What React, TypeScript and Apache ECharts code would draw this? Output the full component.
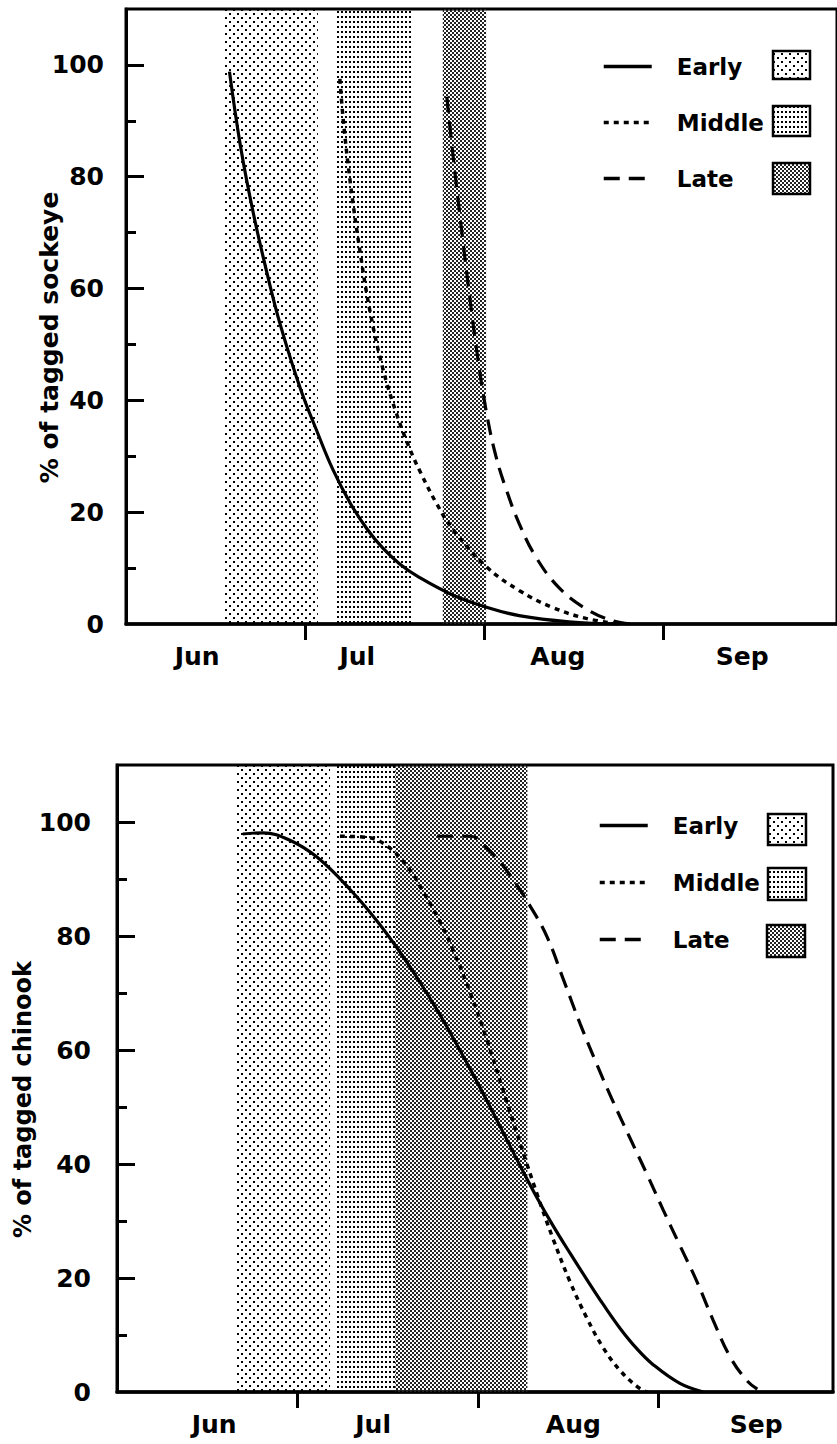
import React, { useEffect, useRef } from "react";
import * as echarts from "echarts";

// ---------- data ----------
// x values are days counted from May 31 (Jun 1 = 1, Jul 1 = 31, Aug 1 = 62, Sep 1 = 93)
const monthNames = ["Jun", "Jul", "Aug", "Sep"];
const monthStartDays = [31, 62, 93];
const sockeyeMonthLabelDays = [12.3, 40, 74.7, 106.6];
const chinookMonthLabelDays = [16.7, 44, 78.4, 109.8];
const yLabelValues = [0, 20, 40, 60, 80, 100];
const yMajorTicks = [20, 40, 60, 80, 100];
const yMinorTicks = [10, 30, 50, 70, 90];
const runNames = ["Early", "Middle", "Late"];

// shaded periods (start day, end day) for Early / Middle / Late runs
const sockeyeBands = [
  [17.1, 33.2],
  [36.5, 49.6],
  [54.8, 62.3],
];
const chinookBands = [
  [20.6, 36.6],
  [37.8, 47.8],
  [47.8, 70.5],
];

// % of tagged sockeye remaining
const sockeyeEarly = [
  [17.9, 98.8], [19.8, 85.5], [22.0, 73.6], [24.5, 62.3], [26.7, 53.5],
  [30.1, 42.3], [33.1, 34.3], [35.8, 27.6], [38.8, 21.6], [41.7, 17.0],
  [44.4, 13.6], [47.4, 10.7], [50.8, 8.3], [56.5, 5.2], [62.4, 3.0],
  [68.0, 1.5], [76.6, 0.4], [85.3, 0],
];
const sockeyeMiddle = [
  [37.0, 97.5], [37.6, 90.0], [38.8, 79.0], [40.5, 66.5], [42.2, 56.0],
  [44.4, 45.8], [46.8, 37.6], [49.1, 31.3], [51.0, 27.0], [53.7, 21.6],
  [56.5, 17.0], [62.4, 10.2], [68.0, 6.0], [73.7, 3.0], [79.6, 1.0],
  [85.3, 0],
];
const sockeyeLate = [
  [55.5, 94.3], [56.5, 84.5], [58.0, 71.0], [59.4, 59.0], [60.8, 48.0],
  [62.4, 37.6], [64.0, 30.0], [65.8, 24.0], [68.0, 18.0], [70.9, 12.0],
  [74.9, 6.5], [79.6, 2.7], [84.1, 0.6], [87.5, 0],
];

// % of tagged chinook remaining
const chinookEarly = [
  [21.6, 97.9], [25.1, 98.1], [29.7, 96.8], [34.4, 93.8], [40.0, 88.2],
  [44.7, 82.6], [48.6, 77.2], [52.1, 71.8], [55.0, 67.0], [57.7, 62.2],
  [60.7, 56.6], [63.6, 51.0], [66.3, 45.6], [69.2, 39.8], [72.2, 34.0],
  [74.9, 29.2], [77.8, 24.4], [80.8, 19.6], [83.5, 15.4], [86.4, 11.2],
  [89.3, 7.6], [92.1, 4.8], [96.7, 1.5], [100.7, 0],
];
const chinookMiddle = [
  [38.3, 97.5], [43.0, 97.3], [46.9, 95.4], [50.3, 91.6], [52.1, 88.6],
  [55.0, 83.5], [57.7, 77.6], [60.7, 70.0], [63.6, 61.6], [66.3, 53.0],
  [69.2, 43.8], [72.2, 34.6], [74.9, 26.9], [77.8, 19.4], [80.8, 12.8],
  [83.5, 7.8], [86.4, 3.8], [89.3, 1.0], [91.0, 0],
];
const chinookLate = [
  [55.0, 97.5], [60.7, 97.5], [63.6, 95.4], [67.0, 91.4], [71.0, 85.2],
  [73.9, 79.8], [76.6, 72.6], [79.6, 64.5], [82.5, 57.3], [85.2, 51.0],
  [88.1, 44.6], [91.0, 38.3], [93.8, 32.0], [96.7, 25.7], [99.7, 19.2],
  [102.4, 12.6], [105.3, 6.2], [108.2, 2.0], [110.0, 0.5],
];

// ---------- styling helpers ----------
const FONT = "DejaVu Sans";
const lineStyles = [
  { color: "#000", width: 3.2, type: "solid" },
  { color: "#000", width: 3.5, type: [5, 5] },
  { color: "#000", width: 3.2, type: [16, 9] },
];

function dotPattern(w: number, h: number, dots: number[][], size: number, color: string) {
  const c = document.createElement("canvas");
  c.width = w;
  c.height = h;
  const ctx = c.getContext("2d")!;
  ctx.fillStyle = color;
  dots.forEach(([x, y]) => ctx.fillRect(x, y, size, size));
  return { image: c, repeat: "repeat", imageWidth: w, imageHeight: h };
}

function nearestLabel(days: number[], v: number) {
  let best = 0;
  days.forEach((d, i) => {
    if (Math.abs(d - v) < Math.abs(days[best] - v)) best = i;
  });
  return monthNames[best];
}

export default function App() {
  const ref = useRef<HTMLDivElement>(null);

  useEffect(() => {
    if (!ref.current) return;
    const chart = echarts.init(ref.current, null, { renderer: "svg" });

    const patterns = [
      dotPattern(8, 8, [[1, 1], [5, 5]], 2, "#000"),
      dotPattern(4, 5, [[1, 1]], 2, "#000"),
      dotPattern(4, 4, [[0, 0], [2, 2]], 2, "#222"),
    ];

    const textBase = { fontFamily: FONT, fontWeight: "bold" as const, color: "#000" };

    const makeX = (gridIndex: number, labelDays: number[]) => ({
      type: "value",
      gridIndex,
      min: 0,
      max: 123,
      axisLine: { show: true, onZero: false, lineStyle: { color: "#000", width: 3.5 } },
      axisTick: {
        show: true,
        inside: false,
        customValues: monthStartDays,
        length: 16,
        lineStyle: { color: "#000", width: 3 },
      },
      axisLabel: {
        customValues: labelDays,
        formatter: (v: number) => nearestLabel(labelDays, v),
        margin: 20,
        fontSize: 25,
        ...textBase,
      },
      splitLine: { show: false },
    });

    const makeY = (gridIndex: number, name: string, nameGap: number, fontSize: number, labelMargin: number) => ({
      type: "value",
      gridIndex,
      min: 0,
      max: 110,
      position: "left",
      name,
      nameLocation: "middle",
      nameGap,
      nameRotate: 90,
      nameMoveOverlap: false,
      nameTextStyle: { ...textBase, fontSize, padding: [0, 42, 0, 0] },
      axisLine: { show: true, onZero: false, lineStyle: { color: "#000", width: 3 } },
      axisTick: {
        show: true,
        inside: true,
        customValues: yMajorTicks,
        length: 18,
        lineStyle: { color: "#000", width: 3 },
      },
      axisLabel: { customValues: yLabelValues, margin: labelMargin, fontSize: 25, ...textBase },
      splitLine: { show: false },
    });

    const makeYMinor = (gridIndex: number) => ({
      type: "value",
      gridIndex,
      min: 0,
      max: 110,
      position: "left",
      axisLine: { show: false },
      axisTick: {
        show: true,
        inside: true,
        customValues: yMinorTicks,
        length: 10,
        lineStyle: { color: "#000", width: 3 },
      },
      axisLabel: { show: false },
      splitLine: { show: false },
    });

    const makeSeries = (gridIndex: number, sets: number[][][], bands: number[][]) =>
      sets.map((data, i) => ({
        type: "line",
        name: runNames[i],
        xAxisIndex: gridIndex,
        yAxisIndex: gridIndex * 2,
        data,
        symbol: "none",
        smooth: 0.4,
        lineStyle: lineStyles[i],
        itemStyle: { color: "#000" },
        z: 3,
        markArea:
          i === 0
            ? {
                silent: true,
                z: 1,
                data: bands.map((b, k) => [
                  { xAxis: b[0], itemStyle: { color: patterns[k] } },
                  { xAxis: b[1] },
                ]),
              }
            : undefined,
      }));

    const legendBase = {
      data: runNames,
      orient: "vertical",
      padding: 0,
      itemWidth: 48,
      itemHeight: 14,
      selectedMode: false,
      itemStyle: { color: "transparent", borderColor: "transparent", borderWidth: 0, opacity: 0 },
      lineStyle: { width: 3.5 },
      textStyle: { ...textBase, fontSize: 23, lineHeight: 22, padding: [0, 0, 0, 20] },
    };

    const box = (x: number, y: number, w: number, h: number, k: number) => ({
      type: "rect",
      shape: { x, y, width: w, height: h },
      style: { fill: patterns[k], stroke: "#000", lineWidth: 2.5 },
      z: 10,
    });

    chart.setOption({
      animation: false,
      backgroundColor: "#fff",
      grid: [
        { left: 126, top: 9, width: 714, height: 615, show: true, borderColor: "#000", borderWidth: 3 },
        { left: 117, top: 765, width: 716, height: 627, show: true, borderColor: "#000", borderWidth: 3 },
      ],
      xAxis: [makeX(0, sockeyeMonthLabelDays), makeX(1, chinookMonthLabelDays)],
      yAxis: [
        makeY(0, "% of tagged sockeye", 64, 25, 22),
        makeYMinor(0),
        makeY(1, "% of tagged chinook", 82, 24, 26),
        makeYMinor(1),
      ],
      legend: [
        { ...legendBase, left: 602, top: 55, itemGap: 33 },
        { ...legendBase, left: 598, top: 814, itemGap: 34 },
      ],
      graphic: [
        box(773, 51, 37, 28, 0),
        box(773, 106, 37, 30, 1),
        box(773, 163, 37, 31, 2),
        box(768, 814, 38, 31, 0),
        box(768, 868, 38, 32, 1),
        box(767, 925, 38, 32, 2),
      ],
      series: [
        ...makeSeries(0, [sockeyeEarly, sockeyeMiddle, sockeyeLate], sockeyeBands),
        ...makeSeries(1, [chinookEarly, chinookMiddle, chinookLate], chinookBands),
      ],
    });

    return () => chart.dispose();
  }, []);

  return (
    <div
      ref={ref}
      style={{ position: "absolute", left: 0, top: 0, width: 837, height: 1444 }}
    />
  );
}
